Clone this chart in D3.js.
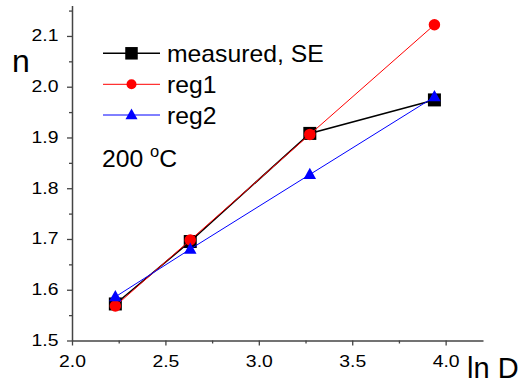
<!DOCTYPE html>
<html><head><meta charset="utf-8">
<script src="https://cdn.jsdelivr.net/npm/d3@7"></script>
<style>body{margin:0;background:#fff} text{font-family:"Liberation Sans",Arial,sans-serif;fill:#000}</style>
</head><body><svg id="c" width="527" height="386"></svg>
<script>
// data
const lnD = [2.232, 2.633, 3.273, 3.940];
const measured = [1.572, 1.695, 1.908, 1.974];
const reg1 = [1.568, 1.698, 1.906, 2.122];
const reg2 = [1.586, 1.680, 1.827, 1.980];
const seriesNames = ["measured, SE", "reg1", "reg2"];
const seriesColors = ["#000000", "#ff0000", "#0000ff"];
const seriesShapes = ["square", "circle", "triangle"];
const xTicks = [2.0, 2.5, 3.0, 3.5, 4.0];
const xMinor = [2.25, 2.75, 3.25, 3.75];
const yTicks = [1.5, 1.6, 1.7, 1.8, 1.9, 2.0, 2.1];
const yMinor = [1.55, 1.65, 1.75, 1.85, 1.95, 2.05, 2.15];
const xLabel = "ln D", yLabel = "n", note = "200 °C";

const svg = d3.select("#c");
const x = d3.scaleLinear().domain([2.0, 4.2]).range([72, 483]);
const y = d3.scaleLinear().domain([1.5, 2.16]).range([340.5, 5.5]);
const axisColor = "#444";

function styleAxis(g){
  g.select(".domain").attr("stroke", axisColor).attr("stroke-width", 1.5);
  g.selectAll(".tick line").attr("stroke", axisColor).attr("stroke-width", 1.3);
}
const fmt = d3.format(".1f");
// x axis
const gx = svg.append("g").attr("transform", `translate(0,${y(1.5)})`)
  .call(d3.axisBottom(x).tickValues(xTicks).tickSize(5).tickSizeOuter(0).tickFormat(fmt));
styleAxis(gx);
gx.selectAll(".tick text").attr("y", 0).attr("dy", null)
  .attr("transform", "translate(0,26.5) scale(1.14,1)").attr("font-size", 17).attr("fill", "#000");
const gxm = svg.append("g").attr("transform", `translate(0,${y(1.5)})`)
  .call(d3.axisBottom(x).tickValues(xMinor).tickSize(3).tickSizeOuter(0).tickFormat(""));
gxm.select(".domain").remove();
styleAxis(gxm);
// y axis
const gy = svg.append("g").attr("transform", `translate(${x(2.0)},0)`)
  .call(d3.axisLeft(y).tickValues(yTicks).tickSize(5).tickSizeOuter(0).tickFormat(fmt));
styleAxis(gy);
gy.selectAll(".tick text").attr("x", 0).attr("dy", null).attr("y", 0)
  .attr("transform", "translate(-13.5,5) scale(1.14,1)").attr("font-size", 17).attr("fill", "#000");
const gym = svg.append("g").attr("transform", `translate(${x(2.0)},0)`)
  .call(d3.axisLeft(y).tickValues(yMinor).tickSize(3).tickSizeOuter(0).tickFormat(""));
gym.select(".domain").remove();
styleAxis(gym);
svg.selectAll(".tick text").attr("font-family", '"Liberation Sans",Arial,sans-serif');

// axis titles
svg.append("text").attr("x", 467).attr("y", 378).attr("font-size", 29).text(xLabel);
svg.append("text").attr("x", 12).attr("y", 71.5).attr("font-size", 32).text(yLabel);

// markers
function marker(g, shape, cx, cy, color, s){
  if (shape === "square") {
    g.append("rect").attr("x", cx - s/2).attr("y", cy - s/2).attr("width", s).attr("height", s)
      .attr("fill", color);
  } else if (shape === "circle") {
    g.append("circle").attr("cx", cx).attr("cy", cy).attr("r", s/2).attr("fill", color);
  } else {
    const h = s * 0.9;
    g.append("path").attr("d", `M${cx},${cy - h*0.6}L${cx + s/2},${cy + h*0.4}L${cx - s/2},${cy + h*0.4}Z`)
      .attr("fill", color);
  }
}
const allSeries = [measured, reg1, reg2];
const lineW = [1.5, 1, 1];
const markerSize = [13, 11.5, 12.5];
const line = d3.line().x(d => x(d[0])).y(d => y(d[1]));
allSeries.forEach((vals, i) => {
  const pts = lnD.map((d, j) => [d, vals[j]]);
  const g = svg.append("g");
  g.append("path").attr("d", line(pts)).attr("fill", "none")
    .attr("stroke", seriesColors[i]).attr("stroke-width", lineW[i]);
  pts.forEach(p => marker(g, seriesShapes[i], x(p[0]), y(p[1]), seriesColors[i], markerSize[i]));
});

// legend
const legY = [53.3, 84.3, 115];
seriesNames.forEach((name, i) => {
  const g = svg.append("g");
  g.append("line").attr("x1", 103).attr("x2", 160).attr("y1", legY[i]).attr("y2", legY[i])
    .attr("stroke", seriesColors[i]).attr("stroke-width", lineW[i]);
  marker(g, seriesShapes[i], 131.5, legY[i], seriesColors[i], [12.5, 10, 12][i]);
  g.append("text").attr("transform", `translate(167,${legY[i] + 8.8}) scale(1.03,1)`)
    .attr("font-size", 24).text(name);
});
// note 200 °C
const nt = svg.append("text").attr("transform", "translate(102,166.5) scale(1.03,1)").attr("font-size", 24);
nt.append("tspan").text("200 ");
nt.append("tspan").attr("font-size", 16).attr("dy", -10).text("o");
nt.append("tspan").attr("dy", 10).text("C");
</script></body></html>
